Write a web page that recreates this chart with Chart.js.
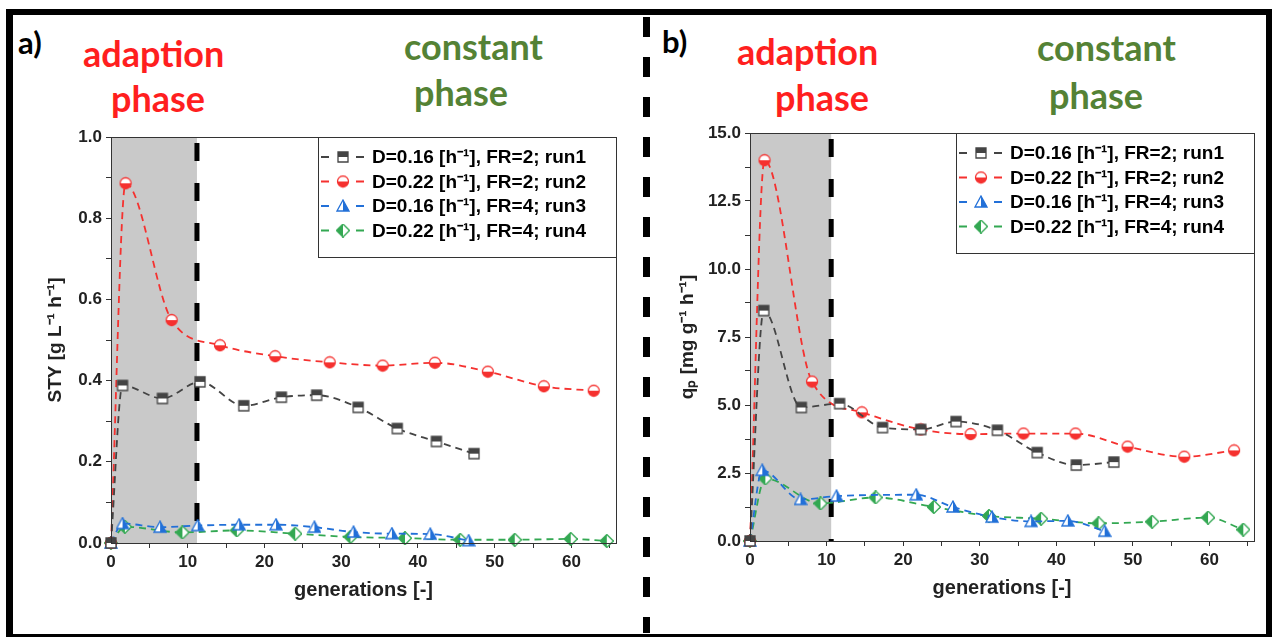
<!DOCTYPE html>
<html lang="en">
<head>
    <meta charset="UTF-8">
    <title>STY and qp over generations</title>
    <script src="https://cdn.jsdelivr.net/npm/chart.js"></script>
    <style>
        body {
            margin: 0;
            width: 1280px;
            height: 638px;
            background: #fff;
            overflow: hidden;
            position: relative;
        }
        .frame {
            position: absolute;
            left: 6px; top: 9px;
            width: 1266px; height: 628px;
            box-sizing: border-box;
            border: solid #000;
            border-width: 6px 6px 3px 7px;
        }
        .divider {
            position: absolute;
            left: 643px; top: 17px;
            width: 7px; height: 616px;
            background: repeating-linear-gradient(to bottom, #000 0 20px, transparent 20px 40px);
        }
        .panel { position: absolute; }
        .note {
            position: absolute;
            font-family: Lato, "Open Sans", sans-serif;
            font-weight: 700;
            font-size: 36px;
            line-height: 1;
            white-space: nowrap;
        }
        .red { color: #ff1f1f; }
        .green { color: #548235; }
        .tag { color: #000; font-size: 31px; }
    </style>
</head>
<body>
    <div class="frame"></div>
    <div class="divider"></div>

    <div class="note tag" style="left:18px; top:27px;">a)</div>
    <div class="note red" style="left:83px; top:35px;">adaption</div>
    <div class="note red" style="left:111px; top:80px;">phase</div>
    <div class="note green" style="left:404px; top:28px;">constant</div>
    <div class="note green" style="left:414px; top:74px;">phase</div>

    <div class="note tag" style="left:662px; top:26px;">b)</div>
    <div class="note red" style="left:737px; top:33px;">adaption</div>
    <div class="note red" style="left:775px; top:79px;">phase</div>
    <div class="note green" style="left:1037px; top:29px;">constant</div>
    <div class="note green" style="left:1049px; top:77px;">phase</div>

    <div class="panel" style="left:14px; top:120px;"><canvas id="styChart" width="616" height="510"></canvas></div>
    <div class="panel" style="left:655px; top:116px;"><canvas id="qpChart" width="613" height="514"></canvas></div>

    <script>
        // --- data ---
        const xTicks = [0, 5, 10, 15, 20, 25, 30, 35, 40, 45, 50, 55, 60, 65];
        const labels = [
            "D=0.16 [h⁻¹], FR=2; run1",
            "D=0.22 [h⁻¹], FR=2; run2",
            "D=0.16 [h⁻¹], FR=4; run3",
            "D=0.22 [h⁻¹], FR=4; run4"
        ];

        // a) STY [g L-1 h-1]
        const styGen1 = [0, 1.5, 6.7, 11.6, 17.3, 22.2, 26.8, 32.2, 37.3, 42.4, 47.3];
        const styRun1 = [0, 0.388, 0.356, 0.397, 0.338, 0.359, 0.364, 0.334, 0.282, 0.250, 0.220];
        const styGen2 = [0, 1.9, 7.9, 14.2, 21.4, 28.5, 35.4, 42.2, 49.1, 56.4, 62.9];
        const styRun2 = [0, 0.886, 0.549, 0.487, 0.460, 0.445, 0.437, 0.444, 0.422, 0.386, 0.375];
        const styGen3 = [0, 1.5, 6.4, 11.3, 16.7, 21.5, 26.5, 31.6, 36.6, 41.6, 46.6];
        const styRun3 = [0, 0.048, 0.039, 0.043, 0.045, 0.045, 0.039, 0.027, 0.023, 0.022, 0.006];
        const styGen4 = [0, 1.8, 9.3, 16.4, 24.0, 31.2, 38.3, 45.5, 52.6, 59.9, 64.6];
        const styRun4 = [0, 0.040, 0.026, 0.031, 0.023, 0.015, 0.012, 0.008, 0.008, 0.010, 0.005];
        const styPhaseEnd = 11.2;

        // b) qp [mg g-1 h-1]
        const qpGen1 = [0, 1.8, 6.7, 11.7, 17.3, 22.3, 26.9, 32.3, 37.5, 42.6, 47.5];
        const qpRun1 = [0, 8.47, 4.91, 5.05, 4.17, 4.10, 4.39, 4.07, 3.25, 2.79, 2.90];
        const qpGen2 = [0, 1.9, 8.1, 14.6, 22.3, 28.8, 35.7, 42.5, 49.3, 56.7, 63.2];
        const qpRun2 = [0, 14.0, 5.86, 4.73, 4.10, 3.93, 3.95, 3.95, 3.47, 3.10, 3.33];
        const qpGen3 = [0, 1.6, 6.6, 11.3, 21.7, 26.5, 31.6, 36.7, 41.5, 46.3];
        const qpRun3 = [0, 2.60, 1.53, 1.65, 1.70, 1.25, 0.88, 0.72, 0.74, 0.36];
        const qpGen4 = [0, 2.0, 9.2, 16.4, 24.0, 31.2, 38.0, 45.5, 52.5, 59.8, 64.4];
        const qpRun4 = [0, 2.30, 1.38, 1.60, 1.25, 0.92, 0.82, 0.65, 0.71, 0.86, 0.42];
        const qpPhaseEnd = 10.6;

        const colors = ["#444444", "#f5312f", "#2270d8", "#33a852"];
        const shapes = ["square", "circle", "triangle", "diamond"];
        const AXIS = "#333";
        const FAMILY = "'Liberation Sans', Arial, sans-serif";
        const TICK_FONT = { family: FAMILY, size: 17, weight: "bold" };
        const TITLE_FONT = { family: FAMILY, size: 19, weight: "bold" };

        // half filled markers, like the Origin ones
        function marker(shape, color) {
            const s = 14, m = s / 2;
            const c = document.createElement("canvas");
            c.width = s; c.height = s;
            const g = c.getContext("2d");
            const path = () => {
                g.beginPath();
                if (shape === "square") g.rect(2, 2, s - 4, s - 4);
                if (shape === "circle") g.arc(m, m, 5.5, 0, Math.PI * 2);
                if (shape === "triangle") { g.moveTo(m, 1); g.lineTo(s - 1, s - 2); g.lineTo(1, s - 2); g.closePath(); }
                if (shape === "diamond") { g.moveTo(m, 0.5); g.lineTo(s - 0.5, m); g.lineTo(m, s - 0.5); g.lineTo(0.5, m); g.closePath(); }
            };
            path(); g.fillStyle = "#fff"; g.fill();
            g.save(); path(); g.clip();
            g.fillStyle = color;
            if (shape === "square") g.fillRect(0, 0, s, m);
            if (shape === "circle") g.fillRect(0, m, s, s);
            if (shape === "triangle") g.fillRect(m, 0, s, s);
            if (shape === "diamond") g.fillRect(0, 0, m, s);
            g.restore();
            path(); g.lineWidth = 1.3; g.strokeStyle = color; g.stroke();
            return c;
        }
        const markers = shapes.map((s, i) => marker(s, colors[i]));

        function series(xs, ys, i) {
            return {
                label: labels[i],
                data: xs.map((x, k) => ({ x: x, y: ys[k] })),
                showLine: true,
                borderColor: colors[i],
                backgroundColor: colors[i],
                borderWidth: 1.8,
                borderDash: [7, 5],
                cubicInterpolationMode: "monotone",
                pointStyle: markers[i],
                pointRadius: 6,
                clip: false
            };
        }

        // grey adaption area + the thick dashed boundary
        const phasePlugin = {
            id: "phase",
            beforeDatasetsDraw(chart, args, opts) {
                const { ctx, chartArea: a, scales } = chart;
                const x = scales.x.getPixelForValue(opts.end);
                ctx.save();
                ctx.fillStyle = "#c9c9c9";
                ctx.fillRect(a.left, a.top, x - a.left, a.bottom - a.top);
                ctx.strokeStyle = "#000";
                ctx.lineWidth = 5;
                ctx.setLineDash([18, 22]);
                ctx.lineDashOffset = -6;
                ctx.beginPath();
                ctx.moveTo(x, a.top);
                ctx.lineTo(x, a.bottom);
                ctx.stroke();
                ctx.restore();
            }
        };

        // box round the plot + legend in the upper right corner
        const boxPlugin = {
            id: "box",
            afterDatasetsDraw(chart) {
                const { ctx, chartArea: a } = chart;
                ctx.save();
                ctx.strokeStyle = AXIS;
                ctx.lineWidth = 1;
                ctx.strokeRect(a.left + 0.5, a.top + 0.5, a.right - a.left, a.bottom - a.top);

                const w = 298, h = 120;
                const lx = a.right - w, ly = a.top;
                ctx.fillStyle = "#fff";
                ctx.fillRect(lx, ly, w, h);
                ctx.strokeRect(lx + 0.5, ly + 0.5, w, h);
                ctx.font = "bold 19px " + FAMILY;
                ctx.textBaseline = "middle";
                chart.data.datasets.forEach((ds, i) => {
                    const y = ly + 20 + i * 24.5;
                    ctx.strokeStyle = ds.borderColor;
                    ctx.lineWidth = 1.8;
                    ctx.beginPath();
                    ctx.moveTo(lx + 3, y); ctx.lineTo(lx + 11, y);
                    ctx.moveTo(lx + 38, y); ctx.lineTo(lx + 46, y);
                    ctx.stroke();
                    ctx.drawImage(ds.pointStyle, lx + 25 - 7, y - 7);
                    ctx.fillStyle = "#000";
                    ctx.fillText(ds.label, lx + 54, y + 1);
                });
                ctx.restore();
            }
        };

        function makeChart(id, datasets, opts) {
            return new Chart(document.getElementById(id), {
                type: "scatter",
                data: { datasets: datasets },
                options: {
                    responsive: false,
                    animation: false,
                    devicePixelRatio: 1,
                    layout: { padding: { top: 17, right: 14 } },
                    plugins: {
                        legend: { display: false },
                        tooltip: { enabled: false },
                        phase: { end: opts.phaseEnd }
                    },
                    scales: {
                        x: {
                            type: "linear",
                            min: 0, max: 65.8,
                            afterBuildTicks: s => { s.ticks = xTicks.map(v => ({ value: v })); },
                            afterFit: s => { s.height = opts.xHeight; },
                            grid: { drawOnChartArea: false, tickLength: 5, color: AXIS },
                            border: { color: AXIS },
                            ticks: {
                                font: TICK_FONT, color: "#222", padding: 4,
                                maxRotation: 0, autoSkip: false,
                                callback: v => (v % 10 === 0 ? v : "")
                            },
                            title: {
                                display: true, text: "generations [-]", color: "#222",
                                font: { ...TITLE_FONT, size: 20 }, padding: { bottom: opts.xTitlePad }
                            }
                        },
                        y: {
                            min: 0, max: opts.yMax,
                            afterFit: s => { s.width = opts.yWidth; },
                            grid: { drawOnChartArea: false, tickLength: 5, color: AXIS },
                            border: { color: AXIS },
                            ticks: {
                                stepSize: opts.yStep, font: TICK_FONT, color: "#222", padding: 4,
                                autoSkip: false,
                                callback: (v, i) => (i % 2 ? "" : v.toFixed(1))
                            },
                            title: {
                                display: true, text: opts.yTitle, color: "#222",
                                font: TITLE_FONT, padding: { top: opts.yTitlePad }
                            }
                        }
                    }
                },
                plugins: [phasePlugin, boxPlugin]
            });
        }

        makeChart("styChart", [
            series(styGen1, styRun1, 0),
            series(styGen2, styRun2, 1),
            series(styGen3, styRun3, 2),
            series(styGen4, styRun4, 3)
        ], {
            phaseEnd: styPhaseEnd, yMax: 1.0, yStep: 0.1,
            yTitle: "STY [g L⁻¹ h⁻¹]", yWidth: 97, yTitlePad: 30,
            xHeight: 87, xTitlePad: 28
        });

        makeChart("qpChart", [
            series(qpGen1, qpRun1, 0),
            series(qpGen2, qpRun2, 1),
            series(qpGen3, qpRun3, 2),
            series(qpGen4, qpRun4, 3)
        ], {
            phaseEnd: qpPhaseEnd, yMax: 15, yStep: 1.25,
            yTitle: "qₚ [mg g⁻¹ h⁻¹]", yWidth: 95, yTitlePad: 21,
            xHeight: 89, xTitlePad: 30
        });
    </script>
</body>
</html>
